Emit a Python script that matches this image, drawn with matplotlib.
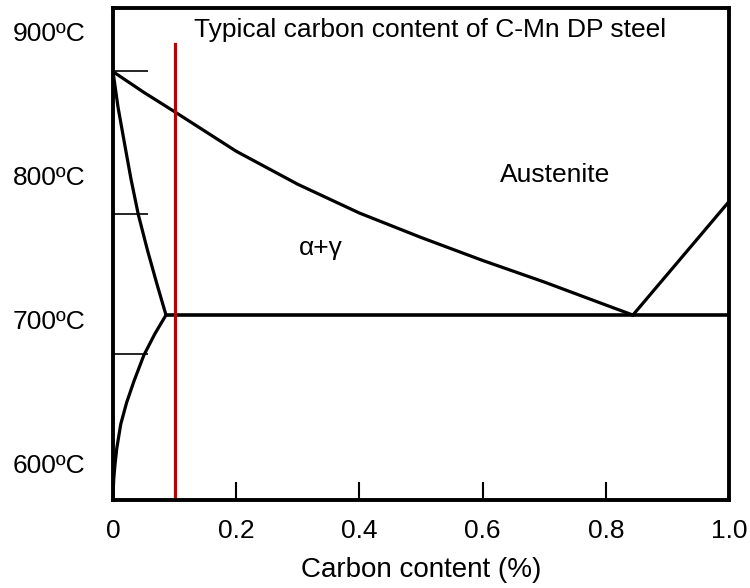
import matplotlib
matplotlib.use("Agg")
import matplotlib.pyplot as plt

plt.rcParams['font.family'] = ['Liberation Sans', 'DejaVu Sans']

# Fe-C corner, temperatures in degC against carbon in wt%
a3_carbon = [0.0, 0.05, 0.1, 0.2, 0.3, 0.4, 0.5, 0.6, 0.7, 0.8, 0.844]
a3_temp = [872.4, 858.0, 844.5, 817.0, 794.0, 774.0, 757.0, 741.0, 726.0, 710.0, 703.0]

ferrite_upper_carbon = [0.0, 0.008, 0.018, 0.029, 0.041, 0.056, 0.071, 0.086]
ferrite_upper_temp = [872.4, 848.0, 824.0, 798.0, 773.0, 748.0, 725.0, 703.0]

ferrite_lower_carbon = [0.086, 0.068, 0.050, 0.034, 0.022, 0.0125, 0.006, 0.003, 0.0012, 0.0003, 0.0]
ferrite_lower_temp = [703.0, 690.0, 675.0, 657.0, 642.0, 627.0, 610.0, 598.0, 589.0, 581.0, 574.3]

eutectoid_carbon = [0.086, 1.0]
eutectoid_temp = [703.0, 703.0]

acm_carbon = [0.844, 1.0]
acm_temp = [703.0, 782.0]

dp_carbon = 0.1
dp_top = 891.6

x_ticks = [0, 0.2, 0.4, 0.6, 0.8, 1.0]
x_labels = ["0", "0.2", "0.4", "0.6", "0.8", "1.0"]
y_ticks = [600, 700, 800, 900]
y_labels = ["600ºC", "700ºC", "800ºC", "900ºC"]
y_marks = [676, 773, 873]

fig = plt.figure(figsize=(7.5, 5.88), dpi=100)
ax = fig.add_axes([0.1507, 0.1497, 0.8213, 0.8367])
ax.set_xlim(0, 1.0)
ax.set_ylim(574.3, 916.7)

lw = 2.3
ax.plot(a3_carbon, a3_temp, color="black", lw=lw, solid_joinstyle="round")
ax.plot(ferrite_upper_carbon, ferrite_upper_temp, color="black", lw=lw,
        solid_joinstyle="round")
ax.plot(ferrite_lower_carbon, ferrite_lower_temp, color="black", lw=lw,
        solid_joinstyle="round")
ax.plot(eutectoid_carbon, eutectoid_temp, color="black", lw=2.6)
ax.plot(acm_carbon, acm_temp, color="black", lw=lw)
ax.plot([dp_carbon, dp_carbon], [574.3, dp_top], color="#C00000", lw=2.3)

ax.text(0.515, 901.4, "Typical carbon content of C-Mn DP steel",
        ha="center", va="center", fontsize=19)
ax.text(0.718, 800.5, "Austenite", ha="center", va="center", fontsize=19)
ax.text(0.337, 749.7, "α+γ", ha="center", va="center", fontsize=19)

for s in ax.spines.values():
    s.set_linewidth(2.8)

ax.set_xticks(x_ticks)
ax.set_xticklabels(x_labels)
ax.set_yticks(y_ticks)
ax.set_yticklabels(y_labels)
ax.set_yticks(y_marks, minor=True)
ax.tick_params(axis="x", direction="in", length=13, width=1.5, pad=14,
               labelsize=19)
ax.tick_params(axis="y", which="major", length=0, pad=20, labelsize=19)
ax.tick_params(axis="y", which="minor", direction="in", length=25, width=1.2)

ax.set_xlabel("Carbon content (%)", fontsize=20, labelpad=10)

fig.savefig("out.png", dpi=100)
